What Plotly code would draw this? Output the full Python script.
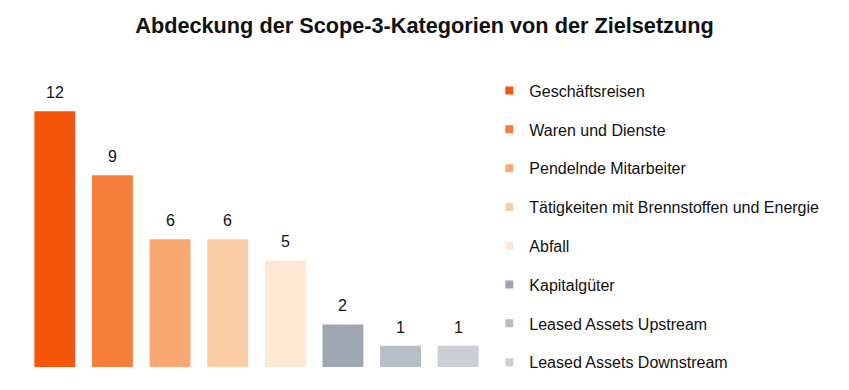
import plotly.graph_objects as go

categories = ["Geschäftsreisen", "Waren und Dienste", "Pendelnde Mitarbeiter",
              "Tätigkeiten mit Brennstoffen und Energie", "Abfall", "Kapitalgüter",
              "Leased Assets Upstream", "Leased Assets Downstream"]
values = [12, 9, 6, 6, 5, 2, 1, 1]
colors = ["#F5560A", "#F6803B", "#F9A971", "#FBCDA7", "#FDE8D6", "#A0A6B1", "#B8BDC6", "#CBCED4"]

FONT = "Liberation Sans, Arial, sans-serif"

fig = go.Figure()
for c, v, col in zip(categories, values, colors):
    fig.add_trace(go.Bar(x=[c], y=[v], name=c, marker=dict(color=col, line=dict(width=0)),
                         width=0.71, showlegend=False, hoverinfo="x+y"))
    fig.add_annotation(x=c, y=v, text=str(v), showarrow=False, yanchor="bottom",
                       yshift=8, font=dict(family=FONT, size=16, color="#111111"))
# legend entries (small square keys)
for c, col in zip(categories, colors):
    fig.add_trace(go.Scatter(x=[None], y=[None], mode="markers", name=c, legendgroup=c,
                             marker=dict(symbol="square", size=8, color=col)))

fig.update_layout(
    width=849, height=390,
    margin=dict(l=26, r=362, t=90, b=23),
    paper_bgcolor="white", plot_bgcolor="white",
    barmode="relative",
    title=dict(text="<b>Abdeckung der Scope-3-Kategorien von der Zielsetzung</b>",
               x=0.5, xref="container", y=0.935, yref="container", yanchor="middle",
               font=dict(family=FONT, size=21.7, color="#111111")),
    font=dict(family=FONT, size=16, color="#111111"),
    xaxis=dict(visible=False, range=[-0.5, 7.5]),
    yaxis=dict(visible=False, range=[0, 13]),
    showlegend=True,
    legend=dict(x=1.005, xanchor="left", y=1.059, yanchor="top", traceorder="grouped",
                tracegroupgap=15, font=dict(family=FONT, size=16, color="#111111"),
                maxheight=1, bgcolor="rgba(0,0,0,0)"),
)

fig.write_html("out.html", config={"displayModeBar": False},
               post_script="document.body.style.margin='0';")
